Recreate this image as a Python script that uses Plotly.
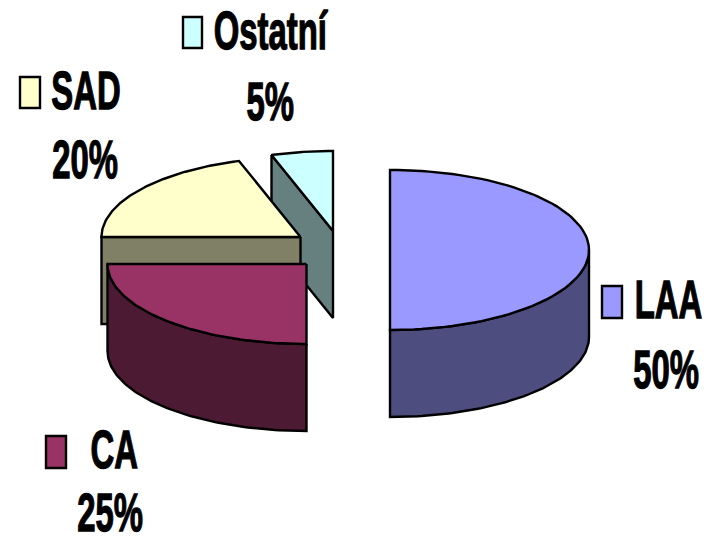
import numpy as np
import plotly.graph_objects as go

# Stroke mortality breakdown by cause
categories = ["LAA", "CA", "SAD", "Ostatní"]
shares = [50, 25, 20, 5]

top_colors = ["#9999FF", "#993366", "#FFFFCC", "#CCFFFF"]
side_colors = ["#4D4D80", "#4D1A33", "#808066", "#668080"]

# Projected pie proportions, in pixels of the page
RX, RY, DEPTH = 199, 80, 87
slice_centres = {
    "LAA": (390, 250),
    "CA": (306.5, 264),
    "SAD": (300.5, 237),
    "Ostatní": (333, 231),
}
# Back-to-front painting order
draw_order = ["Ostatní", "SAD", "CA", "LAA"]

# Legend key box (x0, y0, x1, y1) and centres of the two label lines (x, y)
label_places = {
    "Ostatní": ((183, 17, 202, 48), (271, 30), (270, 101)),
    "SAD": ((20, 77, 40, 108), (86, 90), (85, 159)),
    "LAA": ((602, 286, 622, 318), (668, 299), (666, 369)),
    "CA": ((46, 436, 66, 468), (114, 449), (110, 512)),
}


def rim(cx, cy, a0, a1, dy=0.0, n=80):
    """Points on the projected ellipse, angles clockwise from 12 o'clock."""
    t = np.radians(np.linspace(a0, a1, n))
    return cx + RX * np.sin(t), cy - RY * np.cos(t) + dy


def polygon(xs, ys, color, name):
    return go.Scatter(
        x=list(xs), y=list(ys), mode="lines", fill="toself", fillcolor=color,
        line=dict(color="black", width=2.4), name=name,
        hoverinfo="name", showlegend=False,
    )


# Cumulative shares give each slice its start and end angle
ends = np.cumsum(shares) / np.sum(shares) * 360
spans = {c: (e - 360 * s / np.sum(shares), e) for c, s, e in zip(categories, shares, ends)}
lookup = {c: i for i, c in enumerate(categories)}

fig = go.Figure()
for cat in draw_order:
    i = lookup[cat]
    a0, a1 = spans[cat]
    cx, cy = slice_centres[cat]

    # Cut face along the starting radius, visible when it looks towards the viewer
    if 270 <= a0 < 360:
        ex, ey = rim(cx, cy, a0, a0, n=1)
        fig.add_trace(polygon(
            [cx, ex[0], ex[0], cx, cx],
            [cy, ey[0], ey[0] + DEPTH, cy + DEPTH, cy],
            side_colors[i], cat,
        ))

    # Outer wall on the front half of the ellipse
    w0, w1 = max(a0, 90), min(a1, 270)
    if w0 < w1:
        tx, ty = rim(cx, cy, w0, w1)
        bx, by = rim(cx, cy, w1, w0, dy=DEPTH)
        fig.add_trace(polygon(
            np.r_[tx, bx, tx[0]], np.r_[ty, by, ty[0]], side_colors[i], cat,
        ))

    # Top face
    tx, ty = rim(cx, cy, a0, a1)
    fig.add_trace(polygon(np.r_[cx, tx, cx], np.r_[cy, ty, cy], top_colors[i], cat))

label_font = dict(family="Liberation Sans", size=53, color="black", weight="bold")
for cat, share in zip(categories, shares):
    box, name_pos, share_pos = label_places[cat]
    i = lookup[cat]
    fig.add_shape(
        type="rect", x0=box[0], y0=box[1], x1=box[2], y1=box[3],
        fillcolor=top_colors[i], line=dict(color="black", width=2.4),
    )
    for text, (x, y) in ((cat, name_pos), (f"{share}%", share_pos)):
        fig.add_annotation(
            x=x, y=y, text=text, showarrow=False, font=label_font,
            xanchor="center", yanchor="middle",
        )

fig.update_xaxes(range=[0, 706], visible=False, fixedrange=True)
fig.update_yaxes(range=[543, 0], visible=False, fixedrange=True)
fig.update_layout(
    width=706, height=543, margin=dict(l=0, r=0, t=0, b=0),
    paper_bgcolor="white", plot_bgcolor="white",
)

# The labels are set in a tall, heavy condensed bold: squeeze each one about its
# centre and thicken its strokes
condense = """
document.querySelectorAll('.annotation-text').forEach(function (t) {
  var x = parseFloat(t.getAttribute('x')) || 0;
  t.setAttribute('transform', 'translate(' + x + ',0) scale(0.62,1) translate(' + (-x) + ',0)');
  t.style.stroke = 'black';
  t.style.strokeWidth = '1.3px';
});
"""
fig.write_html("out.html", post_script=condense)
